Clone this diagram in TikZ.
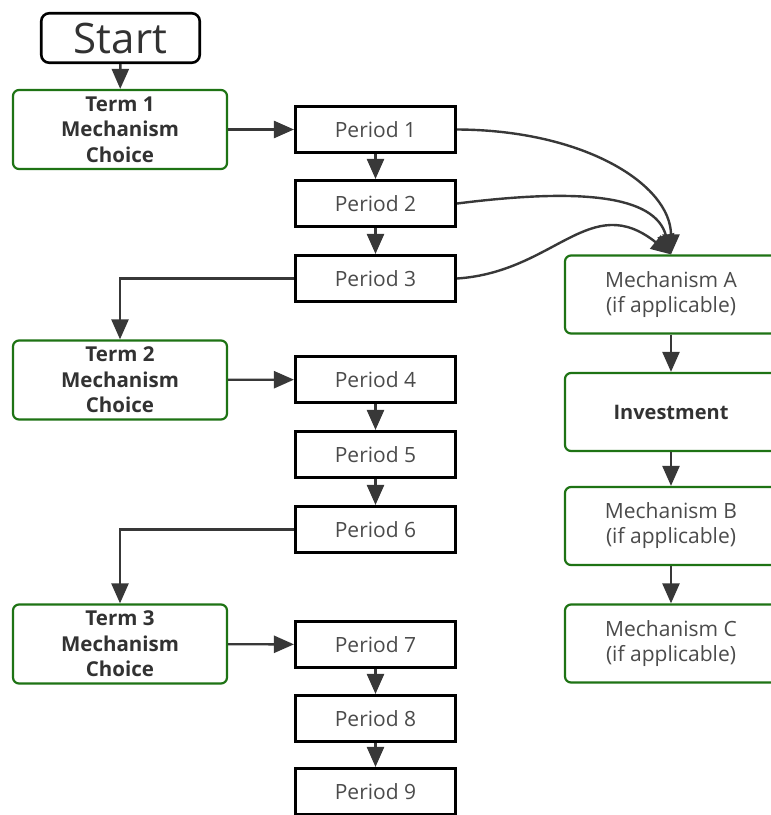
\documentclass[tikz,border=0pt]{standalone}
\usepackage{fontspec}
\setmainfont{Open Sans}
\usetikzlibrary{arrows.meta}
\definecolor{boxgreen}{RGB}{30,115,20}
\definecolor{arrowgray}{RGB}{56,56,56}
\definecolor{txtgray}{RGB}{75,75,75}
\definecolor{txtdark}{RGB}{50,50,50}
\begin{document}
\begin{tikzpicture}[x=1pt,y=-1pt,
  periodbox/.style={draw=black,line width=2.6pt,fill=white,minimum width=160.5pt,minimum height=46.5pt,inner sep=0pt,text=txtgray,font=\fontsize{21}{22}\selectfont},
  termbox/.style={draw=boxgreen,line width=2.2pt,rounded corners=6pt,fill=white,minimum width=214pt,minimum height=79pt,inner sep=0pt,align=center,text=txtdark,font=\fontsize{20.5}{25.5}\selectfont\bfseries},
  mechbox/.style={draw=boxgreen,line width=2.2pt,rounded corners=6pt,fill=white,minimum width=212pt,minimum height=78pt,inner sep=0pt,align=center,text=txtgray,font=\fontsize{21}{25}\selectfont},
  startbox/.style={draw=black,line width=2.6pt,rounded corners=8pt,fill=white,minimum width=158.5pt,minimum height=49.5pt,inner sep=0pt,text=txtdark,font=\fontsize{42}{43}\selectfont},
  conn/.style={draw=arrowgray,line width=2.4pt,-{Triangle[length=20pt,width=17pt]}}
]
\useasboundingbox (0,0) rectangle (771,815);
\clip (0,0) rectangle (771,815);
\fill[white] (0,0) rectangle (771,815);

\node[startbox] (start) at (120.5,38) {Start};

\node[termbox] (t1) at (120,129.5) {Term 1\\Mechanism\\Choice};
\node[termbox] (t2) at (120,380) {Term 2\\Mechanism\\Choice};
\node[termbox] (t3) at (120,644) {Term 3\\Mechanism\\Choice};

\node[periodbox] (p1) at (375.5,129.5) {Period 1};
\node[periodbox] (p2) at (375.5,203.5) {Period 2};
\node[periodbox] (p3) at (375.5,278.5) {Period 3};
\node[periodbox] (p4) at (375.5,379.5) {Period 4};
\node[periodbox] (p5) at (375.5,454.5) {Period 5};
\node[periodbox] (p6) at (375.5,529.5) {Period 6};
\node[periodbox] (p7) at (375.5,644.5) {Period 7};
\node[periodbox] (p8) at (375.5,718.5) {Period 8};
\node[periodbox] (p9) at (375.5,791.5) {Period 9};

\node[mechbox] (ma) at (671,294.5) {Mechanism A\\(if applicable)};
\node[mechbox,font=\fontsize{20}{25}\selectfont\bfseries,text=txtdark] (inv) at (671,412) {Investment};
\node[mechbox] (mb) at (671,526) {Mechanism B\\(if applicable)};
\node[mechbox] (mc) at (671,643.5) {Mechanism C\\(if applicable)};

\draw[conn] (start) -- (t1);
\draw[conn] (t1) -- (p1);
\draw[conn] (t2) -- (p4);
\draw[conn] (t3) -- (p7);
\draw[conn] (p1) -- (p2);
\draw[conn] (p2) -- (p3);
\draw[conn] (p4) -- (p5);
\draw[conn] (p5) -- (p6);
\draw[conn] (p7) -- (p8);
\draw[conn] (p8) -- (p9);
\draw[conn] (p3.west) -| (t2.north);
\draw[conn] (p6.west) -| (t3.north);

\draw[conn] (p1.east) .. controls (585,130) and (671,185) .. (ma.north);
\draw[conn] (p2.east) .. controls (580,188) and (655,195) .. (ma.north);
\draw[conn] (p3.east) .. controls (555,272) and (590,190) .. (ma.north);

\draw[conn] (ma) -- (inv);
\draw[conn] (inv) -- (mb);
\draw[conn] (mb) -- (mc);
\end{tikzpicture}
\end{document}
